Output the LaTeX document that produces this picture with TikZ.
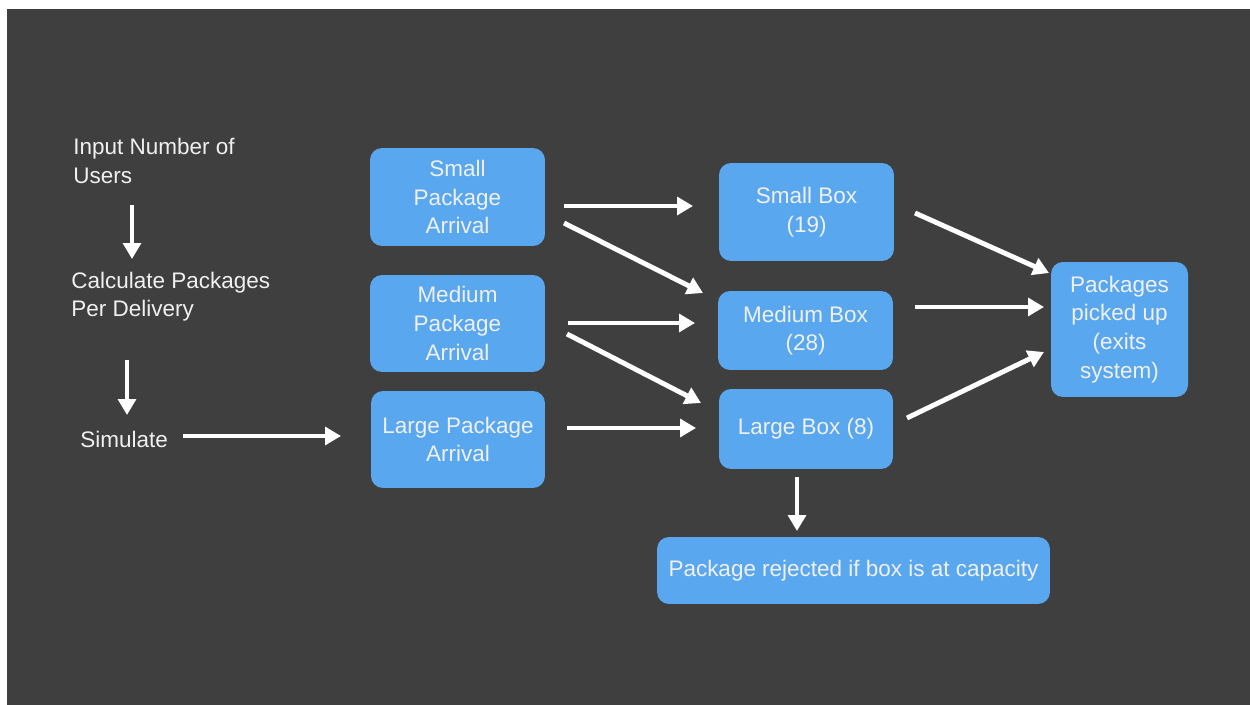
\documentclass[tikz,border=0pt]{standalone}
\usepackage{fontspec}
\setmainfont{Liberation Sans}
\usetikzlibrary{arrows.meta}
\definecolor{bgdark}{HTML}{3F3F3F}
\definecolor{boxblue}{HTML}{59A7EF}
\definecolor{txtw}{HTML}{F0F0F0}
\tikzset{
  box/.style={draw=none, fill=boxblue, rounded corners=0.24cm, text=txtw, align=center, inner sep=0pt,
    font=\fontsize{12.8}{16.3}\selectfont},
  lbl/.style={text=txtw, align=left, inner sep=0pt, anchor=west, font=\fontsize{12.8}{16}\selectfont},
  arr/.style={draw=white, line width=2.8pt, -{Triangle[length=9pt,width=10pt]}},
}
\begin{document}
\begin{tikzpicture}[x=0.02cm,y=-0.02cm]
\useasboundingbox (0,0) rectangle (1250,705);
\fill[white] (0,0) rectangle (1250,705);
\fill[bgdark] (7,9) rectangle (1250,705);

% left column
\node[lbl] (inp) at (73,161) {Input Number of\\Users};
\node[lbl] (calc) at (71,297) {Calculate Packages\\Per Delivery};
\node[lbl] (sim) at (80,439) {Simulate};

% boxes
\node[box, minimum width=3.5cm, minimum height=1.96cm] (spa) at (457.5,197) {Small\\Package\\Arrival};
\node[box, minimum width=3.5cm, minimum height=1.94cm] (mpa) at (457.5,323.5) {Medium\\Package\\Arrival};
\node[box, minimum width=3.48cm, minimum height=1.94cm] (lpa) at (458,439.5) {Large Package\\Arrival};
\node[box, minimum width=3.5cm, minimum height=1.96cm] (sb) at (806.5,212) {Small Box\\(19)};
\node[box, minimum width=3.5cm, minimum height=1.58cm] (mb) at (805.5,330.5) {Medium Box\\(28)};
\node[box, minimum width=3.48cm, minimum height=1.6cm] (lb) at (806,429) {Large Box (8)};
\node[box, minimum width=2.74cm, minimum height=2.7cm] (pick) at (1119.5,329.5) {Packages\\picked up\\(exits\\system)};
\node[box, minimum width=7.86cm, minimum height=1.34cm] (rej) at (853.5,570.5) {Package rejected if box is at capacity};

% arrow end points
\coordinate (a1s) at (132,205); \coordinate (a1e) at (132,259);
\coordinate (a2s) at (127,360); \coordinate (a2e) at (127,415);
\coordinate (a3s) at (183,436); \coordinate (a3e) at (341,436);
\coordinate (b1s) at (564,206); \coordinate (b1e) at (693,206);
\coordinate (b2s) at (564,223); \coordinate (b2e) at (703,293);
\coordinate (b3s) at (568,323); \coordinate (b3e) at (695,323);
\coordinate (b4s) at (567,334); \coordinate (b4e) at (701,403);
\coordinate (b5s) at (567,428); \coordinate (b5e) at (696,428);
\coordinate (c1s) at (915,213); \coordinate (c1e) at (1049,273);
\coordinate (c2s) at (915,307); \coordinate (c2e) at (1044,307);
\coordinate (c3s) at (907,418); \coordinate (c3e) at (1044,352);
\coordinate (d1s) at (797,477); \coordinate (d1e) at (797,531);

\draw[arr] (a1s) -- (a1e);
\draw[arr] (a2s) -- (a2e);
\draw[arr] (a3s) -- (a3e);
\draw[arr] (b1s) -- (b1e);
\draw[arr] (b2s) -- (b2e);
\draw[arr] (b3s) -- (b3e);
\draw[arr] (b4s) -- (b4e);
\draw[arr] (b5s) -- (b5e);
\draw[arr] (c1s) -- (c1e);
\draw[arr] (c2s) -- (c2e);
\draw[arr] (c3s) -- (c3e);
\draw[arr] (d1s) -- (d1e);
\end{tikzpicture}
\end{document}
